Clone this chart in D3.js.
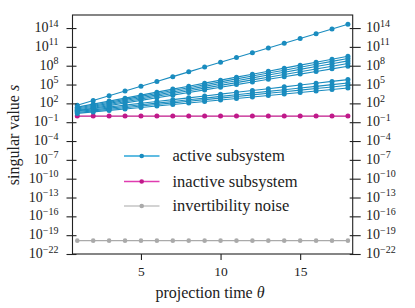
<!DOCTYPE html>
<html><head><meta charset="utf-8">
<script src="https://cdn.jsdelivr.net/npm/d3@7"></script>
<style>html,body{margin:0;padding:0;background:#fff;}svg{display:block;}text{font-family:"Liberation Serif","Times New Roman",serif;}</style>
</head><body><svg id="c" width="415" height="308" font-family="Liberation Serif, serif"></svg>
<script>
// projection time θ
const theta = [1,2,3,4,5,6,7,8,9,10,11,12,13,14,15,16,17,18];
// log10 of singular values, active subsystem (one array per singular value)
const active = [
 [1.70,2.46,3.22,3.98,4.74,5.50,6.26,7.02,7.78,8.54,9.30,10.06,10.82,11.58,12.34,13.10,13.86,14.62],
 [1.40,1.88,2.36,2.83,3.31,3.79,4.27,4.74,5.22,5.70,6.18,6.65,7.13,7.61,8.09,8.56,9.04,9.52],
 [1.25,1.71,2.18,2.64,3.11,3.57,4.04,4.50,4.97,5.43,5.90,6.36,6.83,7.29,7.76,8.22,8.69,9.15],
 [1.10,1.55,2.00,2.45,2.90,3.36,3.81,4.26,4.71,5.16,5.61,6.06,6.51,6.97,7.42,7.87,8.32,8.77],
 [0.95,1.39,1.82,2.26,2.69,3.13,3.56,4.00,4.43,4.87,5.30,5.74,6.17,6.61,7.04,7.48,7.91,8.35],
 [0.80,1.22,1.64,2.06,2.48,2.89,3.31,3.73,4.15,4.57,4.99,5.41,5.83,6.24,6.66,7.08,7.50,7.92],
 [0.85,1.14,1.43,1.72,2.01,2.30,2.59,2.88,3.17,3.47,3.76,4.05,4.34,4.63,4.92,5.21,5.50,5.79],
 [0.70,0.97,1.24,1.50,1.77,2.04,2.31,2.57,2.84,3.11,3.38,3.64,3.91,4.18,4.45,4.71,4.98,5.25],
 [0.55,0.80,1.06,1.31,1.57,1.82,2.08,2.33,2.59,2.84,3.10,3.35,3.61,3.86,4.11,4.37,4.62,4.88],
 [0.40,0.64,0.88,1.11,1.35,1.59,1.83,2.07,2.31,2.54,2.78,3.02,3.26,3.50,3.74,3.97,4.21,4.45]
];
// log10 of singular values, inactive subsystem
const inactive = [-0.03,-0.03,-0.03,-0.03,-0.03,-0.03,-0.03,-0.03,-0.03,-0.03,-0.03,-0.03,-0.03,-0.03,-0.03,-0.03,-0.03,-0.03];
// log10 of invertibility noise
const noise = [-19.87,-19.87,-19.87,-19.87,-19.87,-19.87,-19.87,-19.87,-19.87,-19.87,-19.87,-19.87,-19.87,-19.87,-19.87,-19.87,-19.87,-19.87];
const yTickExps = [14,11,8,5,2,-1,-4,-7,-10,-13,-16,-19,-22];
const xTicks = [5,10,15];
const legendLabels = ["active subsystem","inactive subsystem","invertibility noise"];

const colActive = "#1a8cbf", colInactive = "#c0198a", colNoise = "#aaaaaa";
const legendCols = ["#2ba6d9","#e03cb0","#c4c4c4"];
const FONT = "Liberation Serif";

const svg = d3.select("#c");
const L = 72.5, R = 352.7, T = 15, B = 254;
const x = d3.scaleLinear().domain([0.7, 18.3]).range([L, R]);
const y = d3.scaleLog().domain([1e-22, Math.pow(10, 16.08)]).range([B, T]);

function drawSeries(exps, color, r) {
  const pts = theta.map((t, i) => [t, Math.pow(10, exps[i])]);
  svg.append("path").datum(pts)
    .attr("fill", "none").attr("stroke", color).attr("stroke-width", 1.1)
    .attr("d", d3.line().x(d => x(d[0])).y(d => y(d[1])));
  svg.append("g").selectAll("circle").data(pts).join("circle")
    .attr("cx", d => x(d[0])).attr("cy", d => y(d[1])).attr("r", r).attr("fill", color);
}
drawSeries(noise, colNoise, 2.3);
drawSeries(inactive, colInactive, 2.5);
active.forEach(a => drawSeries(a, colActive, 2.5));

// frame
svg.append("rect").attr("x", L).attr("y", T).attr("width", R - L).attr("height", B - T)
  .attr("fill", "none").attr("stroke", "#222").attr("stroke-width", 1.1);

function expLabel(sel) {
  sel.each(function(e) {
    const t = d3.select(this);
    t.append("tspan").text("10");
    t.append("tspan").attr("dy", -5.5).attr("font-size", 10).text(String(e).replace("-", "\u2212"));
  });
}

const yTickVals = yTickExps.map(e => Math.pow(10, e));
const yl = d3.axisLeft(y).tickValues(yTickVals).tickSizeInner(6).tickSizeOuter(0).tickFormat("");
const yr = d3.axisRight(y).tickValues(yTickVals).tickSizeInner(6).tickSizeOuter(0).tickFormat("");
const gl = svg.append("g").attr("transform", `translate(${L},0)`).call(yl);
const gr = svg.append("g").attr("transform", `translate(${R},0)`).call(yr);
[gl, gr].forEach(g => { g.select(".domain").remove(); g.selectAll(".tick line").attr("stroke", "#222").attr("stroke-width", 1.1); });
gl.selectAll(".tick line").attr("x1", 4);
gr.selectAll(".tick line").attr("x1", -3).attr("x2", 8);

svg.append("g").selectAll("text").data(yTickExps).join("text")
  .attr("x", 58.5).attr("y", e => y(Math.pow(10, e)) + 4).attr("font-family", FONT)
  .attr("text-anchor", "end").attr("font-size", 14).attr("fill", "#222").call(expLabel);
svg.append("g").selectAll("text").data(yTickExps).join("text")
  .attr("x", 366).attr("y", e => y(Math.pow(10, e)) + 4).attr("font-family", FONT)
  .attr("text-anchor", "start").attr("font-size", 14).attr("fill", "#222").call(expLabel);

const xa = d3.axisBottom(x).tickValues(xTicks).tickSizeInner(6).tickSizeOuter(0).tickPadding(6);
const gx = svg.append("g").attr("transform", `translate(0,${B})`).call(xa);
gx.attr("font-family", FONT);
gx.select(".domain").remove();
gx.selectAll(".tick line").attr("stroke", "#222").attr("stroke-width", 1.1);
gx.selectAll(".tick text").attr("font-size", 13.5).attr("font-family", FONT).attr("fill", "#222");

// axis labels
const xl = svg.append("text").attr("x", 210).attr("y", 298).attr("text-anchor", "middle")
  .attr("font-size", 16).attr("font-family", FONT).attr("fill", "#222");
xl.append("tspan").text("projection time ");
xl.append("tspan").attr("font-style", "italic").text("\u03b8");
const ylab = svg.append("text").attr("transform", "translate(19,135) rotate(-90)").attr("text-anchor", "middle")
  .attr("font-size", 16).attr("font-family", FONT).attr("fill", "#222");
ylab.append("tspan").text("singular value ");
ylab.append("tspan").attr("font-style", "italic").text("s");

// legend
const lg = svg.append("g");
const rowsY = [156, 181.5, 206];
legendLabels.forEach((lab, i) => {
  lg.append("line").attr("x1", 124).attr("x2", 159.5).attr("y1", rowsY[i]).attr("y2", rowsY[i])
    .attr("stroke", legendCols[i]).attr("stroke-width", 1.3);
  lg.append("circle").attr("cx", 141.7).attr("cy", rowsY[i]).attr("r", 2.3).attr("fill", i === 0 ? colActive : i === 1 ? colInactive : colNoise);
  lg.append("text").attr("x", 172.5).attr("y", rowsY[i] + 5).attr("font-size", 16.5).attr("font-family", FONT).attr("fill", "#222").text(lab);
});
</script></body></html>
